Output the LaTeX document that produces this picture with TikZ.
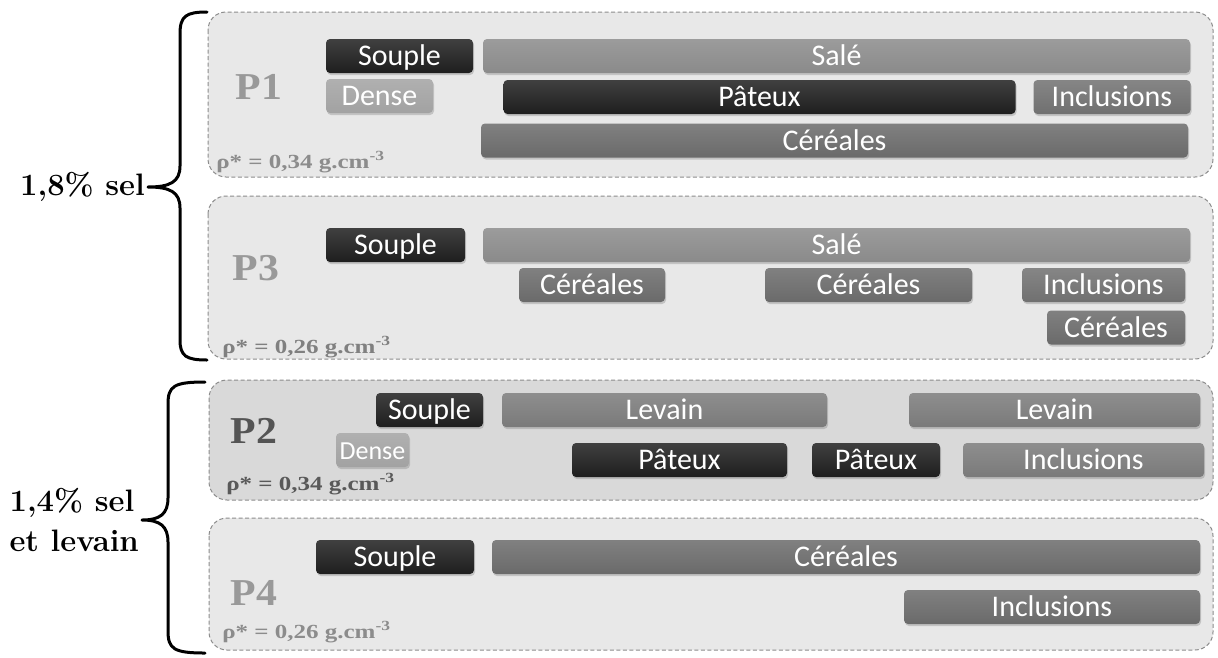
\documentclass[tikz,border=0pt]{standalone}
\usepackage{fontspec}
\newfontfamily\carlito{Carlito}
\newfontfamily\libserif{Liberation Serif}
\usepackage{tikz}
\usetikzlibrary{positioning,shadows}
\definecolor{barblack}{HTML}{1E1E1E}
\definecolor{bardense}{HTML}{A2A2A2}
\definecolor{barsale}{HTML}{8A8A8A}
\definecolor{barcer}{HTML}{6A6A6A}
\definecolor{barincl}{HTML}{707070}
\definecolor{barlev}{HTML}{7A7A7A}

\begin{document}
\begin{tikzpicture}[x=1pt,y=-1pt,
    panel/.style={draw=black!45,line width=1pt,dash pattern=on 4pt off 2.5pt,rounded corners=18pt,fill=#1},
    bar/.style={rounded corners=4pt,top color=#1!85!white,bottom color=#1,text=white,
      inner sep=0pt,minimum height=34,text height=22pt,text depth=3pt,
      font=\carlito\fontsize{30}{30}\selectfont,
      drop shadow={shadow xshift=1pt,shadow yshift=-2pt,opacity=0.35}},
    plabel/.style={font=\libserif\bfseries\fontsize{38}{38}\selectfont,text=#1,
      xscale=1.1,transform shape,inner sep=0pt},
    dens/.style={font=\libserif\bfseries\fontsize{20}{20}\selectfont,text=#1,
      xscale=1.25,transform shape,inner sep=0pt,anchor=base west},
    curly/.style={line width=3pt,line cap=round,line join=round},
    grp/.style={font=\bfseries\fontsize{31}{40}\selectfont,inner sep=0pt,align=left}]
  \useasboundingbox (0,0) rectangle (1218,657);

  % panels
  \draw[panel=black!9] (208,12) rectangle (1213,177);
  \draw[panel=black!9] (208,196) rectangle (1213,359);
  \draw[panel=black!15] (209,380) rectangle (1213,500);
  \draw[panel=black!9] (209,518) rectangle (1213,650);

  % P1
  \node[plabel=black!40] (lp1) at (259,87) {P1};
  \node[dens=black!45] (dp1) at (216,168) {ρ* = 0,34 g.cm\textsuperscript{-3}};
  \node[bar=barblack,minimum width=147] (p1souple) at (399.5,56) {Souple};
  \node[bar=bardense,minimum width=107] (p1dense) at (379.5,96) {Dense};
  \node[bar=barsale,minimum width=707] (p1sale) at (836.5,56) {Salé};
  \node[bar=barblack,minimum width=512] (p1pateux) at (759.5,97) {Pâteux};
  \node[bar=barincl,minimum width=157] (p1incl) at (1112,97) {Inclusions};
  \node[bar=barcer,minimum width=707] (p1cer) at (834.5,140.5) {Céréales};

  % P3
  \node[plabel=black!40] (lp3) at (256,268) {P3};
  \node[dens=black!50] (dp3) at (222,353) {ρ* = 0,26 g.cm\textsuperscript{-3}};
  \node[bar=barblack,minimum width=139] (p3souple) at (395.5,245) {Souple};
  \node[bar=barsale,minimum width=707] (p3sale) at (836.5,245) {Salé};
  \node[bar=barcer,minimum width=146] (p3cerA) at (592,285) {Céréales};
  \node[bar=barcer,minimum width=207] (p3cerB) at (868.5,285) {Céréales};
  \node[bar=barincl,minimum width=163] (p3incl) at (1103.5,285) {Inclusions};
  \node[bar=barcer,minimum width=138] (p3cerC) at (1116,327.5) {Céréales};

  % P2
  \node[plabel=black!67] (lp2) at (254,431) {P2};
  \node[dens=black!65] (dp2) at (226,490) {ρ* = 0,34 g.cm\textsuperscript{-3}};
  \node[bar=barblack,minimum width=107] (p2souple) at (429.5,410) {Souple};
  \node[bar=bardense,minimum width=73,font=\carlito\fontsize{26}{26}\selectfont] (p2dense) at (372.5,450) {Dense};
  \node[bar=barlev,minimum width=325] (p2levA) at (664.5,410) {Levain};
  \node[bar=barlev,minimum width=291] (p2levB) at (1054.5,410) {Levain};
  \node[bar=barblack,minimum width=215] (p2patA) at (679.5,460) {Pâteux};
  \node[bar=barblack,minimum width=128] (p2patB) at (876,460) {Pâteux};
  \node[bar=barlev,minimum width=241] (p2incl) at (1083.5,460) {Inclusions};

  % P4
  \node[plabel=black!40] (lp4) at (254,593) {P4};
  \node[dens=black!45] (dp4) at (222,638) {ρ* = 0,26 g.cm\textsuperscript{-3}};
  \node[bar=barblack,minimum width=158] (p4souple) at (395,557) {Souple};
  \node[bar=barcer,minimum width=708] (p4cer) at (846,557) {Céréales};
  \node[bar=barcer,minimum width=296] (p4incl) at (1052,607) {Inclusions};

  % braces
  \coordinate (tipA) at (148,187);
  \coordinate (tipB) at (142,520);
  \draw[curly] (207,12) .. controls (186,12) and (180,16) .. (180,34) -- (180,166)
    .. controls (180,182) and (170,187) .. (tipA)
    .. controls (170,187) and (180,192) .. (180,208) -- (180,340)
    .. controls (180,356) and (186,360) .. (207,360);
  \draw[curly] (205,382) .. controls (174,382) and (168,386) .. (168,404) -- (168,498)
    .. controls (168,514) and (160,520) .. (tipB)
    .. controls (160,520) and (168,526) .. (168,542) -- (168,631)
    .. controls (168,649) and (174,653) .. (205,653);
  \node[grp,left=3pt of tipA] (salt18) {1,8\% sel};
  \node[grp,left=3pt of tipB] (salt14) {1,4\% sel\\et levain};
\end{tikzpicture}
\end{document}
